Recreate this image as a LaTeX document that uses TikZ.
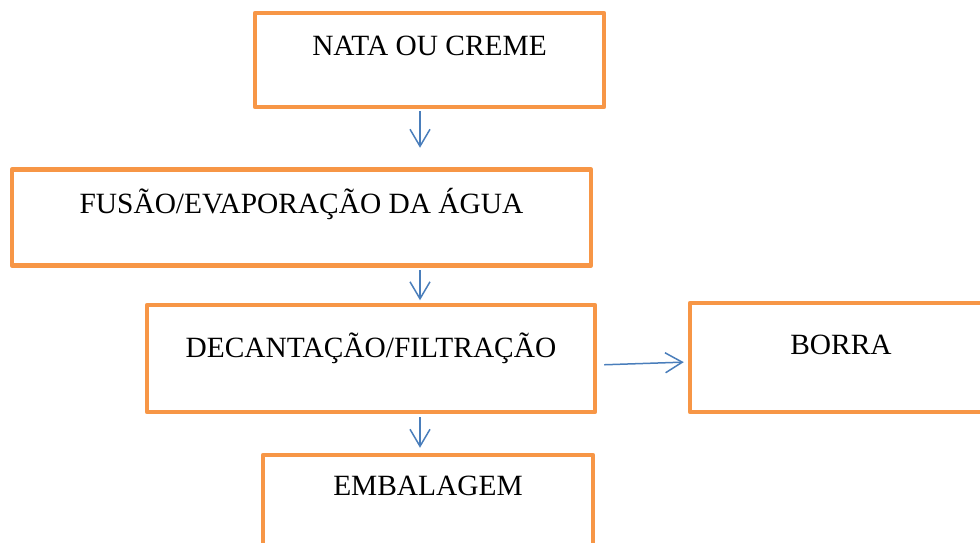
\documentclass[tikz,border=0pt]{standalone}
\usepackage{fontspec}
\setmainfont{Liberation Serif}
\usetikzlibrary{arrows.meta}

\definecolor{laranja}{HTML}{F79646}
\definecolor{azul}{HTML}{4A7EBB}

\tikzset{
    etapa/.style={draw=laranja, line width=4.5pt, rectangle, inner sep=0pt,
        line join=round, font=\fontsize{29.4}{35}\selectfont, text height=20pt},
    seta/.style={draw=azul, line width=1.5pt,
        -{Straight Barb[length=17pt,width=20pt,line width=1.5pt]}}
}

\begin{document}
\begin{tikzpicture}[x=1pt, y=-1pt]

    % --- Page frame ---
    % Clip to the page size (the right and bottom boxes run off the edge)
    \clip (0, 0) rectangle (980, 542);

    % --- Process boxes ---
    % First step
    \node[etapa, minimum width=349, minimum height=94, text depth=30pt] (nata) at (429.5, 60) {NATA OU CREME};
    % Second step
    \node[etapa, minimum width=579, minimum height=96, text depth=29pt] (fusao) at (301.5, 217.5) {FUSÃO/EVAPORAÇÃO DA ÁGUA};
    % Third step
    \node[etapa, minimum width=448, minimum height=107, text depth=23pt] (decantacao) at (371, 358.5) {DECANTAÇÃO/FILTRAÇÃO};
    % Residue on the side
    \node[etapa, minimum width=302, minimum height=109, text depth=27pt] (borra) at (841, 357.5) {BORRA};
    % Last step
    \node[etapa, minimum width=330, minimum height=95, text depth=35pt] (embalagem) at (428, 502.5) {EMBALAGEM};

    % --- Arrows ---
    % Vertical axis shared by the downward arrows
    \coordinate (eixo) at (420, 0);
    % Cream to melting
    \draw[seta, shorten <=2pt, shorten >=19.5pt] (nata.south -| eixo) -- (fusao.north -| eixo);
    % Melting to decanting
    \draw[seta, shorten <=2.5pt, shorten >=2.5pt] (fusao.south -| eixo) -- (decantacao.north -| eixo);
    % Decanting to packing
    \draw[seta, shorten <=3pt, shorten >=5pt] (decantacao.south -| eixo) -- (embalagem.north -| eixo);
    % Decanting to residue
    \draw[seta, shorten <=7pt, shorten >=4pt] ([yshift=-6.5pt]decantacao.east) -- ([yshift=-4.5pt]borra.west);

\end{tikzpicture}
\end{document}
